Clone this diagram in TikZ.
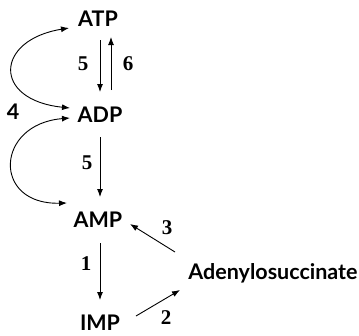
\documentclass[tikz,border=0pt]{standalone}
\usepackage{fontspec}
\setmainfont{Lato}
\newfontfamily\numfont{Liberation Serif}
\usetikzlibrary{arrows.meta}
\begin{document}
\begin{tikzpicture}[x=1pt,y=-1pt,
  met/.style={inner sep=0pt,text height=15pt,text depth=0pt,anchor=center,font=\fontsize{21.5}{21.5}\selectfont\bfseries},
  num/.style={inner sep=0pt,text height=14pt,text depth=0pt,anchor=center,font=\fontsize{21}{21}\selectfont\numfont\bfseries},
  arr/.style={line width=0.9pt,-{Latex[length=8pt,width=6pt]}},
  darr/.style={line width=0.9pt,{Latex[length=8pt,width=6pt]}-{Latex[length=8pt,width=6pt]}}]
\useasboundingbox (0,0) rectangle (359,335);
\node[met] (ATP) at (98,19) {ATP};
\node[met] (ADP) at (100,115) {ADP};
\node[met] (AMP) at (98,220) {AMP};
\node[met] (IMP) at (100,323) {IMP};
\node[met] (ADS) at (273,272) {Adenylosuccinate};
\node[met] (n4) at (13,112) {4};
\node[num] (n5a) at (83,63) {5};
\node[num] (n6) at (128,63) {6};
\node[num] (n5b) at (87,162) {5};
\node[num] (n1) at (86,263) {1};
\node[num] (n3) at (167,227) {3};
\node[num] (n2) at (166,317) {2};
% vertical arrows
\draw[arr] ([xshift=2pt,yshift=-21pt]ATP.center) -- ([yshift=23pt]ADP.center);
\draw[arr] ([xshift=11pt,yshift=25pt]ADP.center) -- ([xshift=13pt,yshift=-18pt]ATP.center);
\draw[arr] ([yshift=-22pt]ADP.center) -- ([xshift=2pt,yshift=23pt]AMP.center);
\draw[arr] ([xshift=2pt,yshift=-23pt]AMP.center) -- ([yshift=23pt]IMP.center);
% diagonal arrows
\draw[arr] ([xshift=36pt,yshift=7pt]IMP.center) -- ([xshift=-93pt,yshift=-18pt]ADS.center);
\draw[arr] ([xshift=-98pt,yshift=20pt]ADS.center) -- ([xshift=32pt,yshift=-4pt]AMP.center);
% curved arrows (reaction 4)
\draw[darr] ([xshift=-30pt,yshift=7pt]ADP.center) .. controls (-8,100) and (-5,40) .. ([xshift=-29pt,yshift=-9pt]ATP.center);
\draw[darr] ([xshift=-30pt,yshift=-3pt]ADP.center) .. controls (-5,124) and (-8,205) .. ([xshift=-31pt,yshift=17pt]AMP.center);
\end{tikzpicture}
\end{document}
